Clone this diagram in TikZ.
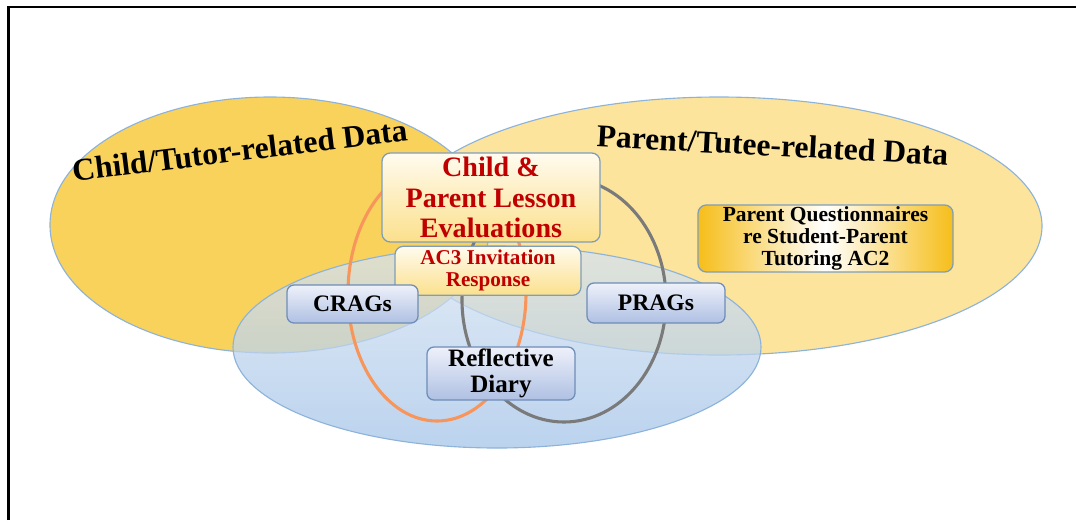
\documentclass[tikz,border=0pt]{standalone}
\usepackage{fontspec}
\setmainfont{Liberation Serif}
\usepackage{tikz}
\usetikzlibrary{positioning}

\definecolor{tutoryellow}{HTML}{F9D25C}
\definecolor{tuteeyellow}{HTML}{FCE49C}
\definecolor{vennline}{HTML}{8DB3DA}
\definecolor{venntop}{HTML}{D8E4F2}
\definecolor{vennbot}{HTML}{A4C4E8}
\definecolor{looporange}{HTML}{F7955B}
\definecolor{loopgray}{HTML}{7A7A7A}
\definecolor{boxline}{HTML}{7F9DB9}
\definecolor{creamtop}{HTML}{FFFBEF}
\definecolor{creambot}{HTML}{FBE08C}
\definecolor{evalred}{HTML}{C00000}
\definecolor{ragtop}{HTML}{EEF1FA}
\definecolor{ragbot}{HTML}{AFC0E3}
\definecolor{ragline}{HTML}{6E8DB8}
\definecolor{gold}{HTML}{F6BE1A}

\begin{document}
\begin{tikzpicture}[
        x=0.025cm, y=-0.025cm,
        every node/.style={font=\bfseries},
        venn/.style={draw=vennline, line width=0.8pt},
        loopline/.style={line width=2.2pt},
        evalbox/.style={rectangle, rounded corners=6pt, draw=boxline, line width=0.9pt, top color=creamtop, bottom color=creambot, text=evalred, align=center, inner sep=1pt},
        ragbox/.style={rectangle, rounded corners=5pt, draw=ragline, line width=0.9pt, top color=ragtop, bottom color=ragbot, align=center, inner sep=1pt},
        questbox/.style={rectangle, rounded corners=6pt, draw=boxline, line width=0.9pt, left color=gold, right color=gold, middle color=white, align=center, inner sep=1pt},
        title/.style={font=\bfseries\fontsize{22.5}{26}\selectfont, anchor=base}
    ]
    \useasboundingbox (0,0) rectangle (1076,520);

    % Frame
    \draw[line width=1.8pt] (8.5,520) -- (8.5,7) -- (1076,7);

    % Data sets
    \draw[venn, fill=tuteeyellow] (719,226) ellipse (323 and 129);
    \draw[venn, fill=tutoryellow] (270,225) ellipse (220 and 128);
    \draw[venn, top color=venntop, bottom color=vennbot, fill opacity=0.75] (497,347) ellipse (264 and 101);

    % Loops
    \draw[loopline, draw=loopgray] (564,300) ellipse (102 and 122);
    \draw[loopline, draw=looporange] (437,293) ellipse (89 and 128);

    % Titles
    \node[title, rotate=7] (tutordata) at (241,161) {Child/Tutor-related Data};
    \node[title, rotate=-3] (tuteedata) at (772,156) {Parent/Tutee-related Data};

    % Nodes
    \node[evalbox, minimum width=5.45cm, minimum height=2.225cm, font=\bfseries\fontsize{20}{21.5}\selectfont] (eval) at (491,197.5) {Child \&\\Parent Lesson\\Evaluations};
    \node[evalbox, minimum width=4.65cm, minimum height=1.225cm, font=\bfseries\fontsize{15}{15.8}\selectfont, below=0.075cm of eval, xshift=-0.075cm] (invite) {AC3 Invitation\\Response};
    \node[ragbox, minimum width=3.275cm, minimum height=0.95cm, font=\bfseries\fontsize{16.8}{19}\selectfont] (crags) at (352.5,304) {CRAGs};
    \node[ragbox, minimum width=3.45cm, minimum height=1cm, font=\bfseries\fontsize{16.8}{19}\selectfont] (prags) at (656,303) {PRAGs};
    \node[ragbox, minimum width=3.7cm, minimum height=1.325cm, font=\bfseries\fontsize{17.8}{19}\selectfont] (diary) at (501,373.5) {Reflective\\Diary};
    \node[questbox, minimum width=6.375cm, minimum height=1.675cm, font=\bfseries\fontsize{15.3}{15.6}\selectfont] (quest) at (825.5,238.5) {Parent Questionnaires\\re Student-Parent\\Tutoring AC2};
\end{tikzpicture}
\end{document}
